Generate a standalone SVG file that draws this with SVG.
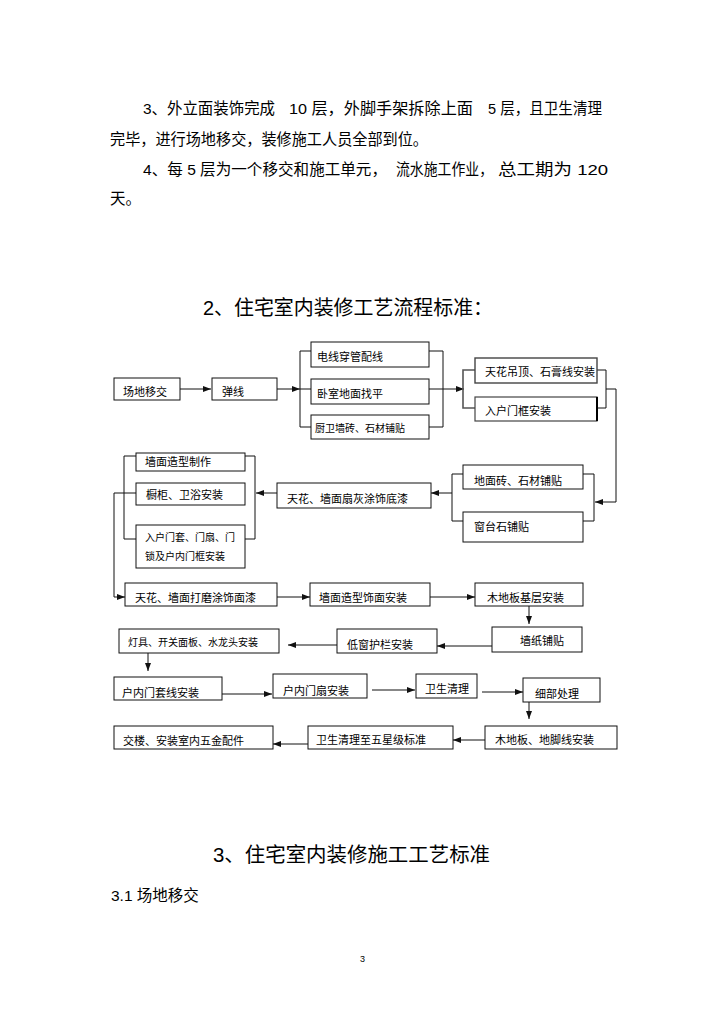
<svg xmlns="http://www.w3.org/2000/svg" width="724" height="1024" viewBox="0 0 724 1024">
<style>
text{font-family:"Liberation Sans","Noto Sans CJK SC",sans-serif;fill:#000}
.p{font-size:15.5px}
.h{font-size:20px}
.b{font-size:11px}
.bs{font-size:10px}
rect.n{fill:#fff;stroke:#111;stroke-width:1}
.c path,.c line,.c polyline{fill:none;stroke:#111;stroke-width:1}
</style>
<defs>
<marker id="ah" viewBox="0 0 8 6" refX="8" refY="3" markerWidth="8" markerHeight="6" markerUnits="userSpaceOnUse" orient="auto">
<path d="M0,0 L8,3 L0,6 z" fill="#111"/>
</marker>
</defs>
<rect width="724" height="1024" fill="#fff"/>
<g id="paragraphs">
<text class="p" x="143" y="114" textLength="132" lengthAdjust="spacingAndGlyphs">3、外立面装饰完成</text>
<text class="p" x="289" y="114" textLength="184" lengthAdjust="spacingAndGlyphs">10 层，外脚手架拆除上面</text>
<text class="p" x="488" y="114" textLength="114" lengthAdjust="spacingAndGlyphs">5 层，且卫生清理</text>
<text class="p" x="110" y="145" textLength="318" lengthAdjust="spacingAndGlyphs">完毕，进行场地移交，装修施工人员全部到位。</text>
<text class="p" x="143" y="175" textLength="244" lengthAdjust="spacingAndGlyphs">4、每 5 层为一个移交和施工单元，</text>
<text class="p" x="396" y="175" textLength="97" lengthAdjust="spacingAndGlyphs">流水施工作业，</text>
<text class="p" x="498" y="175" textLength="110" lengthAdjust="spacingAndGlyphs">总工期为 120</text>
<text class="p" x="110" y="204">天。</text>
</g>
<g id="title2"><text class="h" x="203" y="315" textLength="290" lengthAdjust="spacingAndGlyphs">2、住宅室内装修工艺流程标准：</text></g>
<g class="c" id="connectors">
<line x1="180" y1="389" x2="211" y2="389" marker-end="url(#ah)"/>
<line x1="277" y1="389" x2="300" y2="389" marker-end="url(#ah)"/>
<polyline points="311,351 300,351 300,427 311,427"/>
<line x1="300" y1="389" x2="311" y2="389"/>
<polyline points="429,351 443,351 443,427 429,427"/>
<line x1="429" y1="389" x2="443" y2="389"/>
<line x1="443" y1="389" x2="464" y2="389" marker-end="url(#ah)"/>
<polyline points="475,370 463,370 463,408 475,408" style="stroke:#555;stroke-width:1.6"/>
<polyline points="597,370 606,370 606,408 597,408"/>
<polyline points="606,389 616,389 616,502 595,502" marker-end="url(#ah)"/>
<polyline points="583,474 594,474 594,521 583,521"/>
<polyline points="463,474 452,474 452,521 463,521"/>
<line x1="452" y1="493" x2="431" y2="493" marker-end="url(#ah)"/>
<line x1="277" y1="493" x2="256" y2="493" marker-end="url(#ah)"/>
<polyline points="245,456 255,456 255,539 245,539"/>
<polyline points="136,456 124,456 124,539 136,539"/>
<line x1="114" y1="493" x2="136" y2="493"/>
<polyline points="114,493 114,597 125,597" marker-end="url(#ah)"/>
<line x1="277" y1="597" x2="310" y2="597" marker-end="url(#ah)"/>
<line x1="430" y1="597" x2="475" y2="597" marker-end="url(#ah)"/>
<line x1="529" y1="606" x2="529" y2="624" marker-end="url(#ah)"/>
<line x1="492" y1="646" x2="437" y2="646" marker-end="url(#ah)"/>
<line x1="337" y1="645" x2="288" y2="645" marker-end="url(#ah)"/>
<line x1="148" y1="653" x2="148" y2="671" marker-end="url(#ah)"/>
<line x1="218" y1="694" x2="272" y2="694" marker-end="url(#ah)"/>
<line x1="372" y1="690" x2="415" y2="690" marker-end="url(#ah)"/>
<line x1="482" y1="692" x2="523" y2="692" marker-end="url(#ah)"/>
<line x1="529" y1="702" x2="529" y2="719" marker-end="url(#ah)"/>
<line x1="485" y1="740" x2="453" y2="740" marker-end="url(#ah)"/>
<line x1="308" y1="744" x2="273" y2="744" marker-end="url(#ah)"/>
</g>
<g id="n1"><rect class="n" x="114" y="378" width="66" height="22"/><text class="b" x="123" y="396">场地移交</text></g>
<g id="n2"><rect class="n" x="212" y="378" width="65" height="22"/><text class="b" x="222" y="396">弹线</text></g>
<g id="n3"><rect class="n" x="311" y="342" width="118" height="25"/><text class="b" x="317" y="361">电线穿管配线</text></g>
<g id="n4"><rect class="n" x="311" y="379" width="118" height="25"/><text class="b" x="317" y="398">卧室地面找平</text></g>
<g id="n5"><rect class="n" x="311" y="415" width="118" height="24"/><text class="bs" x="315" y="432">厨卫墙砖、石材铺贴</text></g>
<g id="n6"><rect class="n" x="475" y="358" width="122" height="25" style="stroke:#444;stroke-width:1.4"/><text class="b" x="485" y="376">天花吊顶、石膏线安装</text></g>
<g id="n7"><rect class="n" x="475" y="397" width="122" height="24" style="stroke:#444;stroke-width:1.2"/><line x1="597" y1="397" x2="597" y2="421" style="stroke:#000;stroke-width:2"/><text class="b" x="485" y="415">入户门框安装</text></g>
<g id="n8"><rect class="n" x="463" y="465" width="120" height="24"/><text class="b" x="474" y="485">地面砖、石材铺贴</text></g>
<g id="n9"><rect class="n" x="463" y="512" width="120" height="30"/><text class="b" x="474" y="531">窗台石铺贴</text></g>
<g id="n10"><rect class="n" x="277" y="483" width="154" height="25"/><text class="b" x="287" y="503">天花、墙面扇灰涂饰底漆</text></g>
<g id="n11"><rect class="n" x="136" y="453" width="109" height="18"/><text class="b" x="145" y="466">墙面造型制作</text></g>
<g id="n12"><rect class="n" x="136" y="483" width="109" height="22"/><text class="b" x="146" y="499">橱柜、卫浴安装</text></g>
<g id="n13"><rect class="n" x="136" y="525" width="109" height="43"/><text class="bs" x="145" y="541">入户门套、门扇、门</text><text class="bs" x="145" y="560">锁及户内门框安装</text></g>
<g id="n14"><rect class="n" x="125" y="583" width="152" height="23"/><text class="b" x="135" y="602">天花、墙面打磨涂饰面漆</text></g>
<g id="n15"><rect class="n" x="310" y="583" width="120" height="23"/><text class="b" x="319" y="602">墙面造型饰面安装</text></g>
<g id="n16"><rect class="n" x="475" y="583" width="108" height="23"/><text class="b" x="487" y="602">木地板基层安装</text></g>
<g id="n17"><rect class="n" x="492" y="627" width="90" height="25"/><text class="b" x="520" y="645">墙纸铺贴</text></g>
<g id="n18"><rect class="n" x="337" y="629" width="100" height="24"/><text class="b" x="347" y="649">低窗护栏安装</text></g>
<g id="n19"><rect class="n" x="119" y="629" width="160" height="24"/><text class="bs" x="128" y="646">灯具、开关面板、水龙头安装</text></g>
<g id="n20"><rect class="n" x="114" y="677" width="108" height="23"/><text class="b" x="122" y="697">户内门套线安装</text></g>
<g id="n21"><rect class="n" x="273" y="674" width="94" height="24"/><text class="b" x="283" y="695">户内门扇安装</text></g>
<g id="n22"><rect class="n" x="416" y="674" width="61" height="24"/><text class="b" x="425" y="693">卫生清理</text></g>
<g id="n23"><rect class="n" x="523" y="678" width="77" height="24"/><text class="b" x="535" y="698">细部处理</text></g>
<g id="n24"><rect class="n" x="485" y="726" width="132" height="23"/><text class="b" x="495" y="744">木地板、地脚线安装</text></g>
<g id="n25"><rect class="n" x="308" y="726" width="145" height="23"/><text class="b" x="316" y="744">卫生清理至五星级标准</text></g>
<g id="n26"><rect class="n" x="114" y="726" width="159" height="23"/><text class="b" x="123" y="745">交楼、安装室内五金配件</text></g>
<g id="title3"><text class="h" x="213" y="862" textLength="277" lengthAdjust="spacingAndGlyphs">3、住宅室内装修施工工艺标准</text></g>
<g id="sub31"><text class="p" x="111" y="901">3.1 场地移交</text></g>
<g id="pagenum"><text x="360" y="962" style="font-size:9px">3</text></g>
</svg>
